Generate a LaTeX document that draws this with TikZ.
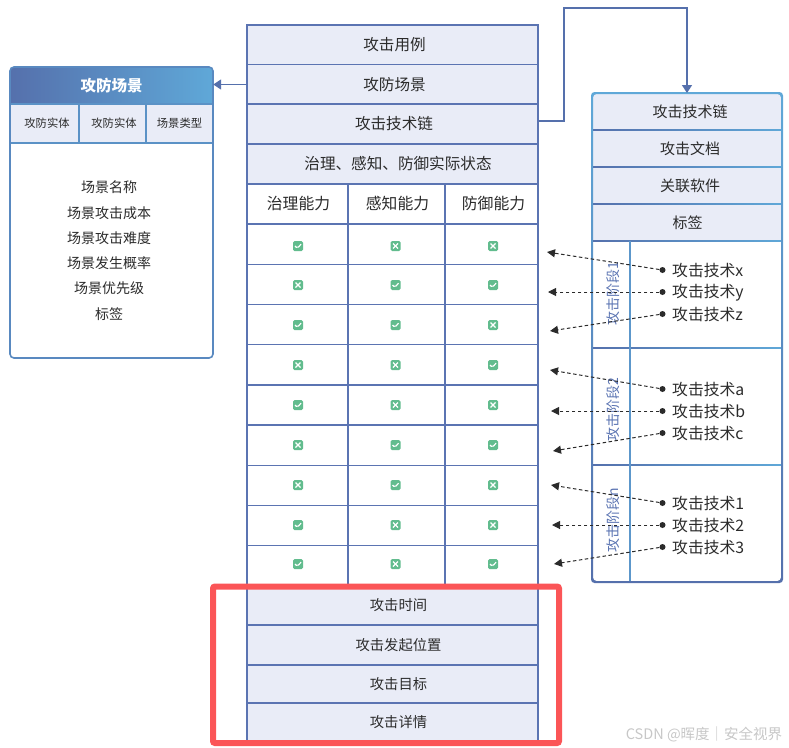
\documentclass[tikz,border=0pt]{standalone}
\usepackage{fontspec}
\setmainfont{Noto Sans CJK SC}
\usetikzlibrary{arrows.meta}
\definecolor{lineBlue}{HTML}{5B74B2}
\definecolor{lightBlue}{HTML}{5FA8D8}
\definecolor{darkBlue}{HTML}{5570AC}
\definecolor{rowFill}{HTML}{E9ECF7}
\definecolor{iconGreen}{HTML}{62BC8E}
\definecolor{alertRed}{HTML}{FB5557}
\definecolor{inkGray}{HTML}{2B2B2B}
\tikzset{
  row box/.style={draw=lineBlue,line width=1.4pt,fill=rowFill,rectangle,inner sep=0,text=inkGray,font=\fontsize{15.6}{18}\selectfont},
  main row/.style={row box,minimum width=291pt},
  low row/.style={main row,font=\fontsize{14.3}{17}\selectfont,execute at begin node=\hspace*{12pt}},
  grid cell/.style={row box,fill=white,font=\fontsize{15.8}{18}\selectfont},
  side row/.style={rectangle,inner sep=0,fill=rowFill,minimum width=190pt,minimum height=37pt,text=inkGray,font=\fontsize{15}{18}\selectfont},
  sub cell/.style={row box,line width=1.2pt,draw=lightBlue!60!darkBlue,font=\fontsize{11.3}{13}\selectfont,minimum height=39pt},
  list text/.style={inner sep=0,text=inkGray,font=\fontsize{14}{17}\selectfont},
  tech text/.style={inner sep=0,anchor=west,text=inkGray,font=\fontsize{15.8}{18}\selectfont},
  phase text/.style={inner sep=0,rotate=90,text=lineBlue,font=\fontsize{14}{16}\selectfont},
  dot mark/.style={circle,fill=inkGray,inner sep=0,minimum size=6pt},
  flow arrow/.style={draw=darkBlue,line width=1.5pt,-{Triangle[length=8pt,width=10pt]}},
  dash arrow/.style={draw=inkGray,line width=1pt,dash pattern=on 3.5pt off 2.5pt,-{Triangle[length=8pt,width=8pt]}},
  icon base/.style={rectangle,rounded corners=1.5pt,fill=iconGreen,inner sep=0,minimum size=10pt},
  okicon/.style={icon base,path picture={
    \draw[white,line width=1.2pt] ([shift={(-3,0)}]path picture bounding box.center) -- ++(2.3,2.2) -- ++(3.8,-4);}},
  noicon/.style={icon base,path picture={
    \draw[white,line width=1.2pt] ([shift={(-2.5,-2.5)}]path picture bounding box.center) -- ++(5,5);
    \draw[white,line width=1.2pt] ([shift={(-2.5,2.5)}]path picture bounding box.center) -- ++(5,-5);}},
}

\begin{document}
\begin{tikzpicture}[x=1pt,y=-1pt]
  \useasboundingbox (0,0) rectangle (789,747);

  % middle table
  \node[main row,minimum height=40pt] (mainCase) at (392.5,45) {\hspace*{4pt}攻击用例};
  \node[main row,minimum height=39.5pt] (mainScene) at (392.5,84.5) {\hspace*{4pt}攻防场景};
  \node[main row,minimum height=40pt] (mainChain) at (392.5,124) {\hspace*{3pt}攻击技术链};
  \node[main row,minimum height=40pt] (mainState) at (392.5,164) {\hspace*{11pt}治理、感知、防御实际状态};

  \node[grid cell,minimum width=101pt,minimum height=40pt] (headGov) at (297.5,204) {\hspace*{2pt}治理能力};
  \node[grid cell,minimum width=97pt,minimum height=40pt] (headSense) at (396.5,204) {\hspace*{2pt}感知能力};
  \node[grid cell,minimum width=93pt,minimum height=40pt] (headDef) at (491.5,204) {\hspace*{4pt}防御能力};

  \foreach \r/\ycell/\yicon/\a/\b/\c in {
      1/244.1/246/okicon/noicon/noicon,
      2/284.3/285/noicon/okicon/okicon,
      3/324.5/325/okicon/okicon/noicon,
      4/364.7/365/noicon/noicon/okicon,
      5/404.9/405/okicon/noicon/noicon,
      6/445.1/445/noicon/okicon/okicon,
      7/485.3/485/noicon/okicon/noicon,
      8/525.5/525/okicon/noicon/noicon,
      9/565.7/564/okicon/noicon/okicon}{
    \node[grid cell,minimum width=101pt,minimum height=40.2pt] (cellA\r) at (297.5,\ycell) {};
    \node[grid cell,minimum width=97pt,minimum height=40.2pt] (cellB\r) at (396.5,\ycell) {};
    \node[grid cell,minimum width=93pt,minimum height=40.2pt] (cellC\r) at (491.5,\ycell) {};
    \node[\a] (iconA\r) at (298,\yicon) {};
    \node[\b] (iconB\r) at (395.5,\yicon) {};
    \node[\c] (iconC\r) at (493,\yicon) {};
  }

  \node[low row,minimum height=39pt] (lowTime) at (392.5,605.5) {攻击时间};
  \node[low row,minimum height=40pt] (lowPlace) at (392.5,645) {攻击发起位置};
  \node[low row,minimum height=38pt] (lowGoal) at (392.5,684) {攻击目标};
  \node[low row,minimum height=38pt] (lowInfo) at (392.5,722) {攻击详情};

  % left panel
  \node[rectangle,fill=white,minimum width=203pt,minimum height=291pt] (sceneBox) at (111.5,212.5) {};
  \shade[left color=darkBlue,right color=lightBlue] (10,104) {[rounded corners=4pt] -- (10,67) -- (213,67) -- (213,104)} -- cycle;
  \node[inner sep=0,minimum width=203pt,minimum height=37pt,text=white,font=\fontsize{15.5}{18}\bfseries\selectfont] (sceneHead) at (111.5,85.5) {攻防场景};
  \node[sub cell,minimum width=69pt] (subEntA) at (44.5,123.5) {\hspace*{5pt}攻防实体};
  \node[sub cell,minimum width=67pt] (subEntB) at (112.5,123.5) {\hspace*{3pt}攻防实体};
  \node[sub cell,minimum width=67pt] (subType) at (179.5,123.5) {场景类型};
  \node[list text] (sceneName) at (109,187) {场景名称};
  \node[list text] (sceneCost) at (109,213) {场景攻击成本};
  \node[list text] (sceneHard) at (109,238) {场景攻击难度};
  \node[list text] (sceneProb) at (109,263) {场景发生概率};
  \node[list text] (sceneRank) at (109,288) {场景优先级};
  \node[list text] (sceneTag) at (109,314) {标签};
  \draw[draw=lightBlue!45!darkBlue,line width=1.6pt,rounded corners=4pt] (10,67) rectangle (213,358);

  % right panel
  \node[side row] (sideChain) at (687,111.5) {\hspace*{6pt}攻击技术链};
  \node[side row] (sideDoc) at (687,148.5) {\hspace*{6pt}攻击文档};
  \node[side row] (sideSoft) at (687,185.5) {\hspace*{6pt}关联软件};
  \node[side row] (sideTag) at (687,222.5) {\hspace*{1pt}标签};
  \foreach \y in {130,167,204,241,348,465}
    \shade[left color=darkBlue,right color=lightBlue] (592,\y-0.8) rectangle (782,\y+0.8);
  \draw[draw=lightBlue!70!darkBlue,line width=2pt] (630,241) -- (630,582);
  \shade[top color=lightBlue,bottom color=darkBlue,even odd rule,rounded corners=3.5pt] (591,92) rectangle (783,583) (593,94) rectangle (781,581);

  \node[phase text] (phaseA) at (613,294) {攻击阶段1};
  \node[phase text] (phaseB) at (613,410) {攻击阶段2};
  \node[phase text] (phaseN) at (613,520) {攻击阶段n};

  \foreach \n/\y/\tx/\ex/\ey in {
      x/270/攻击技术x/547/252, y/292/攻击技术y/548/292, z/314/攻击技术z/550/331,
      a/389/攻击技术a/550/370, b/411/攻击技术b/551/411, c/433/攻击技术c/553/451,
      1/503/攻击技术1/551/485, 2/525/攻击技术2/552/525, 3/547/攻击技术3/554/564}{
    \node[dot mark] (dot\n) at (662.5,\y) {};
    \node[tech text] (tech\n) at (672,\y+0.5) {\tx};
    \coordinate (tip\n) at (\ex,\ey);
    \draw[dash arrow] (dot\n) -- (tip\n);
  }

  % links between the tables
  \draw[flow arrow] (mainScene.west) -- (mainScene.west -| sceneHead.east);
  \coordinate (bendA) at (564,8);
  \draw[flow arrow] ([yshift=3pt]mainChain.east) -| (bendA) -| ([yshift=18.5pt]sideChain.center);

  % red marker and watermark
  \node[draw=alertRed,line width=6pt,rounded corners=2pt,inner sep=0,outer sep=0,minimum width=346pt,minimum height=156.5pt] (alertBox) at (386,664.75) {};
  \node[inner sep=0,text=black!22,font=\fontsize{14.5}{17}\selectfont] (mark) at (704,734) {CSDN @晖度｜安全视界};
\end{tikzpicture}
\end{document}
